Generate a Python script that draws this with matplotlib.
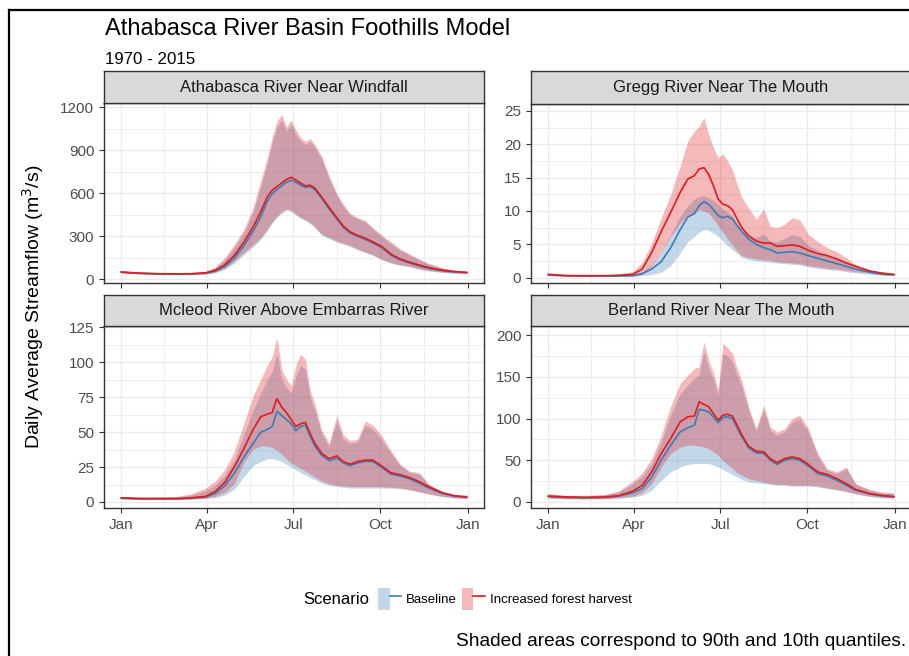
import matplotlib.pyplot as plt
from matplotlib.patches import Patch
from matplotlib.lines import Line2D
from matplotlib.legend_handler import HandlerTuple

plt.rcParams['font.family'] = ['Liberation Sans', 'DejaVu Sans']

W, H = 909, 656

# day of year for every sample below
days = [1, 20, 40, 60, 75, 90, 100, 110, 120, 130, 140, 148, 155, 160, 165, 170, 175, 180, 185, 190,
        195, 200, 205, 212, 220, 228, 235, 242, 250, 258, 266, 275, 285, 295, 305, 315, 325, 340, 352, 365]

# -----------------------------
# Athabasca River Near Windfall
# -----------------------------
ath_base_mean = [48, 40, 36, 35, 36, 41, 55, 88, 145, 230, 335, 435, 545, 595, 625, 650, 675, 690, 675, 655,
                 640, 645, 625, 565, 490, 420, 362, 322, 298, 278, 252, 222, 168, 134, 112, 92, 75, 58, 50, 45]
ath_harv_mean = [50, 42, 38, 37, 38, 44, 62, 100, 165, 255, 365, 470, 575, 620, 645, 670, 695, 710, 690, 670,
                 650, 655, 635, 575, 500, 430, 370, 330, 305, 285, 260, 230, 175, 140, 118, 98, 80, 62, 53, 47]
ath_base_hi = [53, 45, 41, 40, 43, 52, 78, 135, 220, 320, 470, 650, 810, 950, 1060, 1110, 1030, 1080, 1010, 965,
               940, 960, 920, 840, 700, 585, 508, 450, 420, 400, 350, 300, 250, 202, 168, 134, 105, 75, 60, 52]
ath_base_lo = [43, 36, 32, 31, 32, 34, 44, 68, 112, 168, 225, 278, 338, 390, 430, 460, 480, 470, 447, 423,
               407, 387, 357, 308, 283, 258, 243, 228, 204, 185, 165, 136, 111, 96, 85, 70, 57, 46, 41, 40]
ath_harv_hi = [55, 47, 43, 42, 45, 55, 85, 150, 240, 345, 500, 690, 850, 990, 1100, 1150, 1060, 1110, 1040, 990,
               960, 980, 940, 860, 720, 600, 520, 460, 430, 410, 360, 310, 260, 210, 175, 140, 110, 78, 62, 54]
ath_harv_lo = [45, 38, 34, 33, 34, 37, 48, 75, 125, 185, 240, 290, 350, 400, 440, 470, 490, 480, 455, 430,
               415, 395, 365, 315, 290, 265, 250, 235, 210, 190, 170, 140, 115, 100, 88, 72, 60, 48, 43, 41]

# -----------------------------
# Gregg River Near The Mouth
# -----------------------------
gre_base_mean = [0.4, 0.3, 0.25, 0.25, 0.25, 0.3, 0.6, 1.3, 2.4, 4.5, 7.2, 9.1, 9.6, 10.8, 11.4, 11.0, 10.2, 9.3, 9.0, 9.2,
                 8.8, 7.8, 6.9, 5.8, 5.0, 4.5, 4.2, 3.7, 3.8, 3.9, 3.7, 3.3, 2.9, 2.5, 2.1, 1.7, 1.3, 0.8, 0.5, 0.4]
gre_harv_mean = [0.5, 0.3, 0.3, 0.3, 0.35, 0.5, 1.3, 3.8, 6.9, 9.8, 12.8, 14.8, 15.3, 16.3, 16.5, 15.5, 13.8, 11.8, 11.0, 10.8,
                 10.2, 8.8, 7.5, 6.3, 5.5, 5.2, 5.2, 4.7, 4.8, 4.9, 4.7, 4.1, 3.6, 3.3, 2.8, 2.2, 1.7, 1.0, 0.7, 0.5]
gre_base_hi = [0.5, 0.35, 0.3, 0.35, 0.4, 0.5, 0.9, 2.0, 3.8, 6.5, 9.2, 10.8, 11.8, 12.2, 12.3, 12.0, 11.6, 11.0, 10.3, 9.8,
               9.3, 8.2, 7.2, 6.4, 6.0, 6.6, 5.5, 5.4, 5.9, 6.5, 6.2, 4.8, 4.1, 3.5, 3.0, 2.4, 1.6, 0.9, 0.6, 0.5]
gre_base_lo = [0.3, 0.2, 0.2, 0.2, 0.2, 0.2, 0.3, 0.5, 0.8, 1.8, 3.7, 5.4, 6.2, 6.8, 7.2, 7.1, 6.7, 6.2, 5.5, 4.8,
               4.2, 3.6, 3.0, 2.7, 2.5, 2.4, 2.3, 2.2, 2.1, 2.0, 1.9, 1.6, 1.4, 1.2, 1.1, 0.9, 0.7, 0.5, 0.4, 0.3]
gre_harv_hi = [0.6, 0.4, 0.4, 0.45, 0.55, 0.9, 2.3, 5.2, 9.0, 12.5, 16.7, 20.5, 22.0, 22.7, 24.0, 21.5, 19.5, 18.0, 18.6, 17.5,
               16.2, 14.0, 12.0, 10.5, 8.7, 10.3, 7.7, 7.5, 8.0, 9.0, 8.7, 6.5, 5.4, 4.5, 3.9, 3.0, 1.9, 1.1, 0.8, 0.6]
gre_harv_lo = [0.3, 0.2, 0.2, 0.2, 0.2, 0.3, 0.5, 1.8, 3.8, 6.2, 8.2, 9.4, 9.8, 10.2, 10.0, 9.7, 8.8, 7.8, 6.8, 5.8,
               4.9, 4.0, 3.3, 3.0, 2.8, 2.7, 2.6, 2.4, 2.3, 2.2, 2.1, 1.8, 1.6, 1.4, 1.3, 1.1, 0.9, 0.7, 0.5, 0.4]

# -----------------------------
# Mcleod River Above Embarras River
# -----------------------------
mcl_base_mean = [2.8, 2.3, 2.3, 2.3, 2.7, 3.5, 6.2, 11.5, 20.5, 32, 42, 50, 52, 54, 65, 62, 59, 56, 51, 54,
                 55, 47, 40, 33.5, 29.5, 31.5, 28, 26, 28, 29, 29, 25, 20, 18.5, 16.5, 13.5, 10, 6, 4.2, 3.2]
mcl_harv_mean = [3, 2.5, 2.5, 2.5, 3.0, 4.0, 7.6, 14, 25, 38, 52, 61, 63, 64, 74, 68, 64, 59, 54, 56,
                 57, 49, 42, 35, 31, 33, 29, 27, 29, 30, 30, 26, 21, 19.5, 17.5, 14.5, 11, 6.5, 4.5, 3.5]
mcl_base_hi = [3.8, 3.3, 3.3, 3.6, 5, 8, 12, 19, 30, 48, 66, 78, 88, 94, 106, 88, 82, 78, 90, 98,
               95, 75, 66, 49, 40, 58, 45, 42, 43, 55, 52, 45, 35, 26, 21, 20, 12, 6.5, 5.2, 4.8]
mcl_base_lo = [2, 1.6, 1.6, 1.6, 2, 2.5, 3.2, 5, 9, 18, 26, 29, 31, 31, 30, 29, 27, 25, 23, 21,
               19.5, 17.5, 16, 13.5, 12, 11, 10.5, 10, 10, 10, 10, 10, 9.8, 9.5, 8.5, 7, 5.5, 3.7, 2.8, 2.6]
mcl_harv_hi = [4, 3.5, 3.5, 4, 6, 10, 15, 23, 36, 56, 76, 88, 98, 104, 118, 95, 88, 83, 98, 106,
               102, 80, 70, 52, 42, 62, 48, 44, 45, 58, 55, 48, 37, 27, 22, 21, 13, 7, 5.5, 5]
mcl_harv_lo = [2.2, 1.8, 1.8, 1.8, 2.2, 2.8, 4, 7, 13, 28, 38, 40, 40, 39, 37, 34, 31, 28, 26, 24,
               22, 20, 18, 15, 13, 12, 11.5, 11, 11, 11, 11, 11, 10.5, 10, 9, 7.5, 6, 4, 3, 2.8]

# -----------------------------
# Berland River Near The Mouth
# -----------------------------
ber_base_mean = [6.5, 5.5, 5, 5.5, 7, 11, 16, 30, 50, 68, 84, 89, 92, 111, 110, 108, 102, 95, 101, 102,
                 100, 89, 78, 65, 59, 58, 50, 45, 50, 52, 50, 43, 34, 31, 26, 20, 14, 9.5, 7.5, 6]
ber_harv_mean = [7, 6, 5.5, 6, 7.5, 13, 20, 36, 58, 76, 96, 102, 103, 120, 117, 114, 106, 98, 104, 105,
                 103, 92, 80, 67, 61, 60, 52, 47, 52, 54, 52, 45, 36, 33, 28, 22, 15, 10, 8, 6.5]
ber_base_hi = [9.5, 7.5, 7.5, 8.5, 12, 22, 31, 46, 72, 104, 130, 140, 148, 152, 180, 160, 147, 128, 178, 175,
               168, 152, 138, 110, 85, 110, 86, 80, 84, 96, 99, 84, 55, 38, 34, 40, 21, 14, 11, 10]
ber_base_lo = [4.5, 3.6, 3.6, 3.6, 4.5, 6, 8, 14, 26, 36, 42, 45, 46, 46, 46, 46, 44, 42, 39, 36,
               33, 30, 27, 24, 23, 22, 21, 20, 20, 19, 19, 19, 18, 16, 14, 12, 9.5, 6.5, 5, 4.6]
ber_harv_hi = [10, 8, 8, 9, 13, 25, 35, 52, 80, 115, 142, 152, 160, 162, 192, 170, 155, 135, 190, 185,
               178, 160, 145, 115, 88, 116, 90, 84, 88, 100, 104, 88, 58, 40, 36, 42, 22, 15, 12, 11]
ber_harv_lo = [5, 4, 4, 4, 5, 7, 11, 22, 42, 58, 66, 68, 68, 67, 66, 64, 60, 56, 50, 45,
               40, 35, 32, 28, 26, 24, 22, 21, 21, 20, 20, 20, 19, 17, 15, 13, 10, 7, 5.5, 5]

month_ticks = [1, 91, 182, 274, 366]
month_labels = ["Jan", "Apr", "Jul", "Oct", "Jan"]
month_minor = [46, 136.5, 228, 320]

BLUE = "#377EB8"
RED = "#E41A1C"
GRID = "#EBEBEB"
EDGE = "#333333"
TICKC = "#4D4D4D"

panels = [
    # title, series, yticks, ylim, plot box (px: x0, y0, x1, y1), strip rows, show x labels
    ("Athabasca River Near Windfall",
     (ath_base_mean, ath_base_lo, ath_base_hi, ath_harv_mean, ath_harv_lo, ath_harv_hi),
     [0, 300, 600, 900, 1200], (-27, 1228), (104, 103, 484, 283), (71, 103), False),
    ("Gregg River Near The Mouth",
     (gre_base_mean, gre_base_lo, gre_base_hi, gre_harv_mean, gre_harv_lo, gre_harv_hi),
     [0, 5, 10, 15, 20, 25], (-0.8, 26.05), (531, 104, 911, 283), (71, 104), False),
    ("Mcleod River Above Embarras River",
     (mcl_base_mean, mcl_base_lo, mcl_base_hi, mcl_harv_mean, mcl_harv_lo, mcl_harv_hi),
     [0, 25, 50, 75, 100, 125], (-4.3, 126), (104, 326, 484, 508), (295, 326), True),
    ("Berland River Near The Mouth",
     (ber_base_mean, ber_base_lo, ber_base_hi, ber_harv_mean, ber_harv_lo, ber_harv_hi),
     [0, 50, 100, 150, 200], (-7.2, 210.8), (531, 326, 911, 508), (295, 326), True),
]


def box(x0, y0, x1, y1):
    return [x0 / W, 1 - y1 / H, (x1 - x0) / W, (y1 - y0) / H]


fig = plt.figure(figsize=(W / 100, H / 100), dpi=100)

for name, series, yt, ylim, pb, sb, show_x in panels:
    bmean, blo, bhi, hmean, hlo, hhi = series
    ax = fig.add_axes(box(*pb))
    ax.fill_between(days, blo, bhi, color=BLUE, alpha=0.3, linewidth=0)
    ax.fill_between(days, hlo, hhi, color=RED, alpha=0.3, linewidth=0)
    ax.plot(days, bmean, color=BLUE, lw=1.2)
    ax.plot(days, hmean, color=RED, lw=1.2)

    ax.set_xlim(-17.2, 383.2)
    ax.set_ylim(*ylim)
    ax.set_yticks(yt)
    step = yt[1] - yt[0]
    ax.set_yticks([v + step / 2 for v in yt[:-1]], minor=True)
    ax.set_xticks(month_ticks)
    ax.set_xticks(month_minor, minor=True)
    if show_x:
        ax.set_xticklabels(month_labels)
    else:
        ax.set_xticklabels([])
        ax.tick_params(axis="x", length=0)
    ax.grid(True, which="major", color=GRID, lw=1.0)
    ax.grid(True, which="minor", color=GRID, lw=0.6)
    ax.set_axisbelow(True)
    ax.tick_params(which="minor", length=0)
    ax.tick_params(which="major", colors=EDGE, labelcolor=TICKC, labelsize=11, length=3.5, width=0.8)
    for s in ax.spines.values():
        s.set_color(EDGE)
        s.set_linewidth(1.0)

    # facet strip
    sax = fig.add_axes(box(pb[0], sb[0], pb[2], sb[1]))
    sax.set_facecolor("#D9D9D9")
    sax.set_xticks([])
    sax.set_yticks([])
    for s in sax.spines.values():
        s.set_color(EDGE)
        s.set_linewidth(1.0)
    sax.text(0.5, 0.5, name, ha="center", va="center", fontsize=12, color="#1A1A1A",
             transform=sax.transAxes)

fig.text(105 / W, 1 - 29 / H, "Athabasca River Basin Foothills Model", fontsize=17,
         ha="left", va="center")
fig.text(105 / W, 1 - 60 / H, "1970 - 2015", fontsize=12.2, ha="left", va="center")
fig.text(33 / W, 1 - 307 / H, "Daily Average Streamflow (m$^3$/s)", fontsize=14,
         rotation=90, ha="center", va="center")

handles = [(Patch(facecolor=BLUE, alpha=0.3, edgecolor="none"), Line2D([], [], color=BLUE, lw=1.2)),
           (Patch(facecolor=RED, alpha=0.3, edgecolor="none"), Line2D([], [], color=RED, lw=1.2))]
fig.text(303 / W, 1 - 599 / H, "Scenario", fontsize=12, ha="left", va="center")
fig.legend(handles, ["Baseline", "Increased forest harvest"],
           handler_map={tuple: HandlerTuple(ndivide=None)}, ncol=2, frameon=False,
           loc="center left", bbox_to_anchor=(378 / W, 1 - 599 / H), fontsize=9.5,
           handlelength=1.75, handleheight=2.1, handletextpad=0.35, columnspacing=0.4,
           borderpad=0, borderaxespad=0)
fig.text(906 / W, 1 - 641 / H, "Shaded areas correspond to 90th and 10th quantiles.",
         fontsize=13.8, ha="right", va="center")

# screenshot frame
fig.add_artist(Line2D([8.5 / W, 8.5 / W], [0, 1 - 9.5 / H], color="black", lw=1.6,
                      transform=fig.transFigure))
fig.add_artist(Line2D([8.5 / W, 1], [1 - 9.5 / H, 1 - 9.5 / H], color="black", lw=1.6,
                      transform=fig.transFigure))

fig.savefig("out.png", dpi=100)
